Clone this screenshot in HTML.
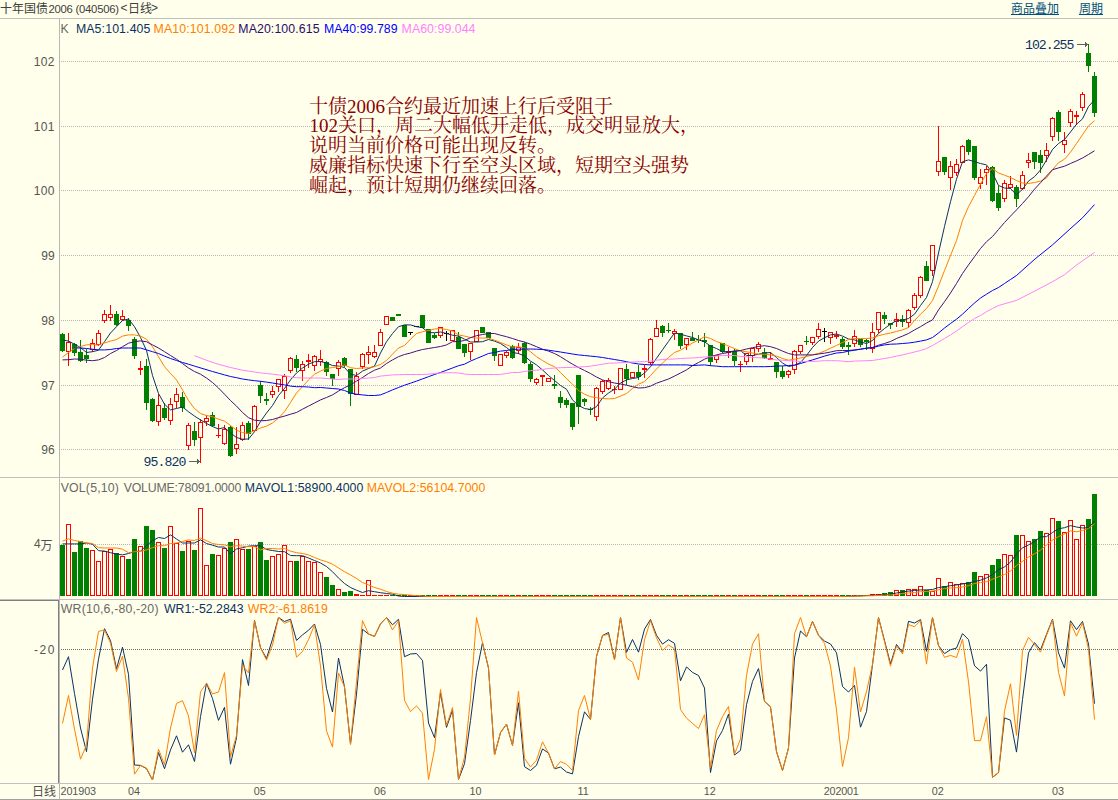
<!DOCTYPE html>
<html><head><meta charset="utf-8"><title>十年国债2006 日线</title>
<style>
html,body{margin:0;padding:0;background:#ffffeb;}
body{width:1118px;height:800px;overflow:hidden;position:relative;font-family:"Liberation Sans",sans-serif;}
.t{position:absolute;white-space:pre;line-height:1.15;}
.sr{position:absolute;left:0;top:0;width:1px;height:1px;overflow:hidden;opacity:0;font-size:1px;}
</style></head><body>
<svg width="1118" height="800" viewBox="0 0 1118 800" style="position:absolute;left:0;top:0">
<g shape-rendering="crispEdges">
<rect x="0" y="18" width="1118" height="1" fill="#c0c0c0"/>
<rect x="59" y="19" width="1" height="781" fill="#b8b8b8"/>
<rect x="0" y="477" width="1118" height="1" fill="#c0c0c0"/>
<rect x="0" y="599" width="1118" height="1" fill="#c0c0c0"/>
<rect x="0" y="600" width="59" height="1" fill="#808080"/>
<rect x="58" y="600" width="1" height="183" fill="#808080"/>
<rect x="0" y="783" width="1118" height="1" fill="#c0c0c0"/>
<rect x="0" y="799" width="1118" height="1" fill="#a0a0a0"/>
<line x1="61" y1="61.5" x2="1118" y2="61.5" stroke="#b6b6b6" stroke-width="1" stroke-dasharray="1 1"/>
<line x1="61" y1="126.5" x2="1118" y2="126.5" stroke="#b6b6b6" stroke-width="1" stroke-dasharray="1 1"/>
<line x1="61" y1="190.5" x2="1118" y2="190.5" stroke="#b6b6b6" stroke-width="1" stroke-dasharray="1 1"/>
<line x1="61" y1="255.5" x2="1118" y2="255.5" stroke="#b6b6b6" stroke-width="1" stroke-dasharray="1 1"/>
<line x1="61" y1="320.5" x2="1118" y2="320.5" stroke="#b6b6b6" stroke-width="1" stroke-dasharray="1 1"/>
<line x1="61" y1="385.5" x2="1118" y2="385.5" stroke="#b6b6b6" stroke-width="1" stroke-dasharray="1 1"/>
<line x1="61" y1="449.5" x2="1118" y2="449.5" stroke="#b6b6b6" stroke-width="1" stroke-dasharray="1 1"/>
<line x1="61" y1="544.5" x2="1118" y2="544.5" stroke="#b6b6b6" stroke-width="1" stroke-dasharray="1 1"/>
<line x1="61" y1="649.5" x2="1118" y2="649.5" stroke="#707070" stroke-width="1" stroke-dasharray="1 1"/>
</g>
<g shape-rendering="crispEdges">
<rect x="62" y="333" width="1" height="19" fill="#008000"/>
<rect x="60" y="334" width="5" height="17" fill="#008000"/>
<rect x="68" y="333" width="1" height="9" fill="#ff0000"/>
<rect x="68" y="352" width="1" height="14" fill="#ff0000"/>
<rect x="66.5" y="342.5" width="4" height="9" fill="#ffffeb" stroke="#ff0000" stroke-width="1"/>
<rect x="74" y="343" width="1" height="13" fill="#008000"/>
<rect x="72" y="344" width="5" height="9" fill="#008000"/>
<rect x="80" y="340" width="1" height="22" fill="#008000"/>
<rect x="78" y="352" width="5" height="9" fill="#008000"/>
<rect x="86" y="349" width="1" height="14" fill="#008000"/>
<rect x="84" y="355" width="5" height="4" fill="#008000"/>
<rect x="92" y="339" width="1" height="4" fill="#ff0000"/>
<rect x="92" y="350" width="1" height="2" fill="#ff0000"/>
<rect x="90.5" y="343.5" width="4" height="6" fill="#ffffeb" stroke="#ff0000" stroke-width="1"/>
<rect x="98" y="330" width="1" height="3" fill="#ff0000"/>
<rect x="98" y="345" width="1" height="1" fill="#ff0000"/>
<rect x="96.5" y="333.5" width="4" height="11" fill="#ffffeb" stroke="#ff0000" stroke-width="1"/>
<rect x="104" y="310" width="1" height="4" fill="#ff0000"/>
<rect x="104" y="321" width="1" height="2" fill="#ff0000"/>
<rect x="102.5" y="314.5" width="4" height="6" fill="#ffffeb" stroke="#ff0000" stroke-width="1"/>
<rect x="110" y="305" width="1" height="9" fill="#ff0000"/>
<rect x="110" y="318" width="1" height="3" fill="#ff0000"/>
<rect x="108.5" y="314.5" width="4" height="3" fill="#ffffeb" stroke="#ff0000" stroke-width="1"/>
<rect x="116" y="311" width="1" height="15" fill="#008000"/>
<rect x="114" y="314" width="5" height="11" fill="#008000"/>
<rect x="122" y="310" width="1" height="6" fill="#ff0000"/>
<rect x="122" y="320" width="1" height="1" fill="#ff0000"/>
<rect x="120.5" y="316.5" width="4" height="3" fill="#ffffeb" stroke="#ff0000" stroke-width="1"/>
<rect x="128" y="318" width="1" height="13" fill="#008000"/>
<rect x="126" y="320" width="5" height="6" fill="#008000"/>
<rect x="134" y="337" width="1" height="22" fill="#008000"/>
<rect x="132" y="339" width="5" height="17" fill="#008000"/>
<rect x="140" y="361" width="1" height="14" fill="#ff0000"/>
<rect x="138" y="368" width="5" height="2" fill="#ff0000"/>
<rect x="146" y="359" width="1" height="51" fill="#008000"/>
<rect x="144" y="366" width="5" height="37" fill="#008000"/>
<rect x="152" y="398" width="1" height="24" fill="#008000"/>
<rect x="150" y="399" width="5" height="22" fill="#008000"/>
<rect x="158" y="394" width="1" height="11" fill="#ff0000"/>
<rect x="158" y="422" width="1" height="4" fill="#ff0000"/>
<rect x="156.5" y="405.5" width="4" height="16" fill="#ffffeb" stroke="#ff0000" stroke-width="1"/>
<rect x="164" y="403" width="1" height="17" fill="#008000"/>
<rect x="162" y="408" width="5" height="10" fill="#008000"/>
<rect x="170" y="398" width="1" height="6" fill="#ff0000"/>
<rect x="170" y="421" width="1" height="4" fill="#ff0000"/>
<rect x="168.5" y="404.5" width="4" height="16" fill="#ffffeb" stroke="#ff0000" stroke-width="1"/>
<rect x="176" y="388" width="1" height="6" fill="#ff0000"/>
<rect x="176" y="402" width="1" height="6" fill="#ff0000"/>
<rect x="174.5" y="394.5" width="4" height="7" fill="#ffffeb" stroke="#ff0000" stroke-width="1"/>
<rect x="182" y="392" width="1" height="20" fill="#008000"/>
<rect x="180" y="397" width="5" height="11" fill="#008000"/>
<rect x="188" y="423" width="1" height="2" fill="#ff0000"/>
<rect x="188" y="446" width="1" height="4" fill="#ff0000"/>
<rect x="186.5" y="425.5" width="4" height="20" fill="#ffffeb" stroke="#ff0000" stroke-width="1"/>
<rect x="194" y="422" width="1" height="24" fill="#008000"/>
<rect x="192" y="431" width="5" height="9" fill="#008000"/>
<rect x="200" y="419" width="1" height="3" fill="#ff0000"/>
<rect x="200" y="438" width="1" height="25" fill="#ff0000"/>
<rect x="198.5" y="422.5" width="4" height="15" fill="#ffffeb" stroke="#ff0000" stroke-width="1"/>
<rect x="206" y="415" width="1" height="3" fill="#ff0000"/>
<rect x="206" y="422" width="1" height="4" fill="#ff0000"/>
<rect x="204.5" y="418.5" width="4" height="3" fill="#ffffeb" stroke="#ff0000" stroke-width="1"/>
<rect x="212" y="412" width="1" height="15" fill="#008000"/>
<rect x="210" y="415" width="5" height="11" fill="#008000"/>
<rect x="218" y="424" width="1" height="14" fill="#ff0000"/>
<rect x="216" y="435" width="5" height="1" fill="#ff0000"/>
<rect x="224" y="425" width="1" height="4" fill="#ff0000"/>
<rect x="224" y="444" width="1" height="1" fill="#ff0000"/>
<rect x="222.5" y="429.5" width="4" height="14" fill="#ffffeb" stroke="#ff0000" stroke-width="1"/>
<rect x="230" y="426" width="1" height="31" fill="#008000"/>
<rect x="228" y="427" width="5" height="29" fill="#008000"/>
<rect x="236" y="427" width="1" height="17" fill="#ff0000"/>
<rect x="236" y="449" width="1" height="5" fill="#ff0000"/>
<rect x="234.5" y="444.5" width="4" height="4" fill="#ffffeb" stroke="#ff0000" stroke-width="1"/>
<rect x="242" y="422" width="1" height="3" fill="#ff0000"/>
<rect x="242" y="440" width="1" height="1" fill="#ff0000"/>
<rect x="240.5" y="425.5" width="4" height="14" fill="#ffffeb" stroke="#ff0000" stroke-width="1"/>
<rect x="248" y="421" width="1" height="19" fill="#008000"/>
<rect x="246" y="423" width="5" height="11" fill="#008000"/>
<rect x="254" y="405" width="1" height="1" fill="#ff0000"/>
<rect x="252.5" y="406.5" width="4" height="24" fill="#ffffeb" stroke="#ff0000" stroke-width="1"/>
<rect x="260" y="381" width="1" height="22" fill="#008000"/>
<rect x="258" y="385" width="5" height="11" fill="#008000"/>
<rect x="266" y="393" width="1" height="12" fill="#008000"/>
<rect x="264" y="399" width="5" height="2" fill="#008000"/>
<rect x="272" y="386" width="1" height="5" fill="#ff0000"/>
<rect x="272" y="395" width="1" height="3" fill="#ff0000"/>
<rect x="270.5" y="391.5" width="4" height="3" fill="#ffffeb" stroke="#ff0000" stroke-width="1"/>
<rect x="278" y="387" width="1" height="5" fill="#ff0000"/>
<rect x="276.5" y="379.5" width="4" height="7" fill="#ffffeb" stroke="#ff0000" stroke-width="1"/>
<rect x="284" y="374" width="1" height="2" fill="#ff0000"/>
<rect x="284" y="391" width="1" height="8" fill="#ff0000"/>
<rect x="282.5" y="376.5" width="4" height="14" fill="#ffffeb" stroke="#ff0000" stroke-width="1"/>
<rect x="290" y="357" width="1" height="1" fill="#ff0000"/>
<rect x="290" y="371" width="1" height="2" fill="#ff0000"/>
<rect x="288.5" y="358.5" width="4" height="12" fill="#ffffeb" stroke="#ff0000" stroke-width="1"/>
<rect x="296" y="355" width="1" height="17" fill="#008000"/>
<rect x="294" y="359" width="5" height="9" fill="#008000"/>
<rect x="302" y="361" width="1" height="3" fill="#ff0000"/>
<rect x="302" y="371" width="1" height="10" fill="#ff0000"/>
<rect x="300.5" y="364.5" width="4" height="6" fill="#ffffeb" stroke="#ff0000" stroke-width="1"/>
<rect x="308" y="354" width="1" height="14" fill="#ff0000"/>
<rect x="306" y="360" width="5" height="2" fill="#ff0000"/>
<rect x="314" y="355" width="1" height="1" fill="#ff0000"/>
<rect x="314" y="366" width="1" height="5" fill="#ff0000"/>
<rect x="312.5" y="356.5" width="4" height="9" fill="#ffffeb" stroke="#ff0000" stroke-width="1"/>
<rect x="320" y="350" width="1" height="9" fill="#ff0000"/>
<rect x="320" y="362" width="1" height="4" fill="#ff0000"/>
<rect x="318.5" y="359.5" width="4" height="2" fill="#ffffeb" stroke="#ff0000" stroke-width="1"/>
<rect x="326" y="361" width="1" height="15" fill="#008000"/>
<rect x="324" y="362" width="5" height="10" fill="#008000"/>
<rect x="332" y="374" width="1" height="12" fill="#008000"/>
<rect x="330" y="374" width="5" height="5" fill="#008000"/>
<rect x="338" y="360" width="1" height="2" fill="#ff0000"/>
<rect x="338" y="369" width="1" height="7" fill="#ff0000"/>
<rect x="336.5" y="362.5" width="4" height="6" fill="#ffffeb" stroke="#ff0000" stroke-width="1"/>
<rect x="344" y="357" width="1" height="10" fill="#008000"/>
<rect x="342" y="358" width="5" height="8" fill="#008000"/>
<rect x="350" y="369" width="1" height="37" fill="#008000"/>
<rect x="348" y="369" width="5" height="25" fill="#008000"/>
<rect x="356" y="372" width="1" height="4" fill="#ff0000"/>
<rect x="354.5" y="376.5" width="4" height="18" fill="#ffffeb" stroke="#ff0000" stroke-width="1"/>
<rect x="362" y="353" width="1" height="1" fill="#ff0000"/>
<rect x="362" y="367" width="1" height="2" fill="#ff0000"/>
<rect x="360.5" y="354.5" width="4" height="12" fill="#ffffeb" stroke="#ff0000" stroke-width="1"/>
<rect x="368" y="346" width="1" height="6" fill="#ff0000"/>
<rect x="368" y="355" width="1" height="9" fill="#ff0000"/>
<rect x="366.5" y="352.5" width="4" height="2" fill="#ffffeb" stroke="#ff0000" stroke-width="1"/>
<rect x="374" y="345" width="1" height="7" fill="#ff0000"/>
<rect x="374" y="357" width="1" height="1" fill="#ff0000"/>
<rect x="372.5" y="352.5" width="4" height="4" fill="#ffffeb" stroke="#ff0000" stroke-width="1"/>
<rect x="380" y="329" width="1" height="3" fill="#ff0000"/>
<rect x="378.5" y="332.5" width="4" height="13" fill="#ffffeb" stroke="#ff0000" stroke-width="1"/>
<rect x="384.5" y="316.5" width="4" height="8" fill="#ffffeb" stroke="#ff0000" stroke-width="1"/>
<rect x="392" y="317" width="1" height="4" fill="#008000"/>
<rect x="390" y="317" width="5" height="4" fill="#008000"/>
<rect x="398" y="314" width="1" height="2" fill="#008000"/>
<rect x="396" y="314" width="5" height="2" fill="#008000"/>
<rect x="404" y="325" width="1" height="12" fill="#008000"/>
<rect x="402" y="325" width="5" height="12" fill="#008000"/>
<rect x="410" y="332" width="1" height="3" fill="#000000"/>
<rect x="408" y="332" width="5" height="1" fill="#000000"/>
<rect x="416" y="326" width="1" height="1" fill="#000000"/>
<rect x="414" y="326" width="5" height="1" fill="#000000"/>
<rect x="422" y="315" width="1" height="13" fill="#008000"/>
<rect x="420" y="315" width="5" height="13" fill="#008000"/>
<rect x="428" y="329" width="1" height="14" fill="#008000"/>
<rect x="426" y="329" width="5" height="14" fill="#008000"/>
<rect x="434" y="333" width="1" height="6" fill="#008000"/>
<rect x="432" y="335" width="5" height="3" fill="#008000"/>
<rect x="440" y="336" width="1" height="2" fill="#ff0000"/>
<rect x="438.5" y="327.5" width="4" height="8" fill="#ffffeb" stroke="#ff0000" stroke-width="1"/>
<rect x="446" y="331" width="1" height="10" fill="#000000"/>
<rect x="444" y="333" width="5" height="1" fill="#000000"/>
<rect x="450.5" y="330.5" width="4" height="10" fill="#ffffeb" stroke="#ff0000" stroke-width="1"/>
<rect x="458" y="332" width="1" height="17" fill="#008000"/>
<rect x="456" y="337" width="5" height="12" fill="#008000"/>
<rect x="464" y="344" width="1" height="13" fill="#008000"/>
<rect x="462" y="344" width="5" height="9" fill="#008000"/>
<rect x="470" y="352" width="1" height="8" fill="#ff0000"/>
<rect x="468.5" y="343.5" width="4" height="8" fill="#ffffeb" stroke="#ff0000" stroke-width="1"/>
<rect x="474.5" y="330.5" width="4" height="11" fill="#ffffeb" stroke="#ff0000" stroke-width="1"/>
<rect x="482" y="327" width="1" height="6" fill="#008000"/>
<rect x="480" y="327" width="5" height="6" fill="#008000"/>
<rect x="488" y="332" width="1" height="6" fill="#008000"/>
<rect x="486" y="332" width="5" height="6" fill="#008000"/>
<rect x="494" y="348" width="1" height="13" fill="#008000"/>
<rect x="492" y="348" width="5" height="8" fill="#008000"/>
<rect x="498.5" y="354.5" width="4" height="11" fill="#ffffeb" stroke="#ff0000" stroke-width="1"/>
<rect x="506" y="351" width="1" height="1" fill="#ff0000"/>
<rect x="506" y="356" width="1" height="2" fill="#ff0000"/>
<rect x="504.5" y="352.5" width="4" height="3" fill="#ffffeb" stroke="#ff0000" stroke-width="1"/>
<rect x="512" y="345" width="1" height="14" fill="#008000"/>
<rect x="510" y="346" width="5" height="12" fill="#008000"/>
<rect x="518" y="343" width="1" height="4" fill="#ff0000"/>
<rect x="518" y="351" width="1" height="3" fill="#ff0000"/>
<rect x="516.5" y="347.5" width="4" height="3" fill="#ffffeb" stroke="#ff0000" stroke-width="1"/>
<rect x="524" y="342" width="1" height="22" fill="#008000"/>
<rect x="522" y="343" width="5" height="20" fill="#008000"/>
<rect x="530" y="362" width="1" height="20" fill="#008000"/>
<rect x="528" y="364" width="5" height="15" fill="#008000"/>
<rect x="536" y="378" width="1" height="1" fill="#ff0000"/>
<rect x="536" y="383" width="1" height="2" fill="#ff0000"/>
<rect x="534.5" y="379.5" width="4" height="3" fill="#ffffeb" stroke="#ff0000" stroke-width="1"/>
<rect x="542" y="375" width="1" height="11" fill="#ff0000"/>
<rect x="540" y="375" width="5" height="2" fill="#ff0000"/>
<rect x="546.5" y="378.5" width="4" height="3" fill="#ffffeb" stroke="#ff0000" stroke-width="1"/>
<rect x="554" y="375" width="1" height="14" fill="#008000"/>
<rect x="552" y="384" width="5" height="2" fill="#008000"/>
<rect x="560" y="391" width="1" height="17" fill="#008000"/>
<rect x="558" y="397" width="5" height="6" fill="#008000"/>
<rect x="566" y="398" width="1" height="10" fill="#008000"/>
<rect x="564" y="400" width="5" height="5" fill="#008000"/>
<rect x="572" y="403" width="1" height="27" fill="#008000"/>
<rect x="570" y="403" width="5" height="24" fill="#008000"/>
<rect x="578" y="375" width="1" height="49" fill="#008000"/>
<rect x="576" y="375" width="5" height="32" fill="#008000"/>
<rect x="584" y="398" width="1" height="8" fill="#008000"/>
<rect x="582" y="399" width="5" height="3" fill="#008000"/>
<rect x="590" y="407" width="1" height="8" fill="#008000"/>
<rect x="588" y="409" width="5" height="1" fill="#008000"/>
<rect x="596" y="387" width="1" height="1" fill="#ff0000"/>
<rect x="596" y="417" width="1" height="4" fill="#ff0000"/>
<rect x="594.5" y="388.5" width="4" height="28" fill="#ffffeb" stroke="#ff0000" stroke-width="1"/>
<rect x="602" y="380" width="1" height="1" fill="#ff0000"/>
<rect x="602" y="392" width="1" height="2" fill="#ff0000"/>
<rect x="600.5" y="381.5" width="4" height="10" fill="#ffffeb" stroke="#ff0000" stroke-width="1"/>
<rect x="608" y="378" width="1" height="2" fill="#ff0000"/>
<rect x="608" y="389" width="1" height="1" fill="#ff0000"/>
<rect x="606.5" y="380.5" width="4" height="8" fill="#ffffeb" stroke="#ff0000" stroke-width="1"/>
<rect x="614" y="386" width="1" height="8" fill="#ff0000"/>
<rect x="612" y="389" width="5" height="1" fill="#ff0000"/>
<rect x="618.5" y="368.5" width="4" height="21" fill="#ffffeb" stroke="#ff0000" stroke-width="1"/>
<rect x="626" y="364" width="1" height="21" fill="#008000"/>
<rect x="624" y="369" width="5" height="10" fill="#008000"/>
<rect x="630.5" y="372.5" width="4" height="5" fill="#ffffeb" stroke="#ff0000" stroke-width="1"/>
<rect x="638" y="365" width="1" height="15" fill="#008000"/>
<rect x="636" y="372" width="5" height="5" fill="#008000"/>
<rect x="644" y="365" width="1" height="13" fill="#ff0000"/>
<rect x="642" y="368" width="5" height="2" fill="#ff0000"/>
<rect x="650" y="338" width="1" height="1" fill="#ff0000"/>
<rect x="650" y="363" width="1" height="2" fill="#ff0000"/>
<rect x="648.5" y="339.5" width="4" height="23" fill="#ffffeb" stroke="#ff0000" stroke-width="1"/>
<rect x="656" y="320" width="1" height="8" fill="#ff0000"/>
<rect x="654.5" y="328.5" width="4" height="8" fill="#ffffeb" stroke="#ff0000" stroke-width="1"/>
<rect x="662" y="325" width="1" height="12" fill="#008000"/>
<rect x="660" y="326" width="5" height="7" fill="#008000"/>
<rect x="668" y="323" width="1" height="10" fill="#008000"/>
<rect x="666" y="330" width="5" height="1" fill="#008000"/>
<rect x="674" y="329" width="1" height="2" fill="#ff0000"/>
<rect x="674" y="334" width="1" height="6" fill="#ff0000"/>
<rect x="672.5" y="331.5" width="4" height="2" fill="#ffffeb" stroke="#ff0000" stroke-width="1"/>
<rect x="680" y="333" width="1" height="16" fill="#008000"/>
<rect x="678" y="333" width="5" height="13" fill="#008000"/>
<rect x="686" y="345" width="1" height="5" fill="#ff0000"/>
<rect x="684.5" y="338.5" width="4" height="6" fill="#ffffeb" stroke="#ff0000" stroke-width="1"/>
<rect x="692" y="332" width="1" height="9" fill="#008000"/>
<rect x="690" y="338" width="5" height="3" fill="#008000"/>
<rect x="698" y="335" width="1" height="8" fill="#008000"/>
<rect x="696" y="339" width="5" height="1" fill="#008000"/>
<rect x="704" y="333" width="1" height="14" fill="#008000"/>
<rect x="702" y="340" width="5" height="2" fill="#008000"/>
<rect x="710" y="345" width="1" height="21" fill="#008000"/>
<rect x="708" y="345" width="5" height="17" fill="#008000"/>
<rect x="716" y="360" width="1" height="3" fill="#ff0000"/>
<rect x="714.5" y="355.5" width="4" height="4" fill="#ffffeb" stroke="#ff0000" stroke-width="1"/>
<rect x="722" y="343" width="1" height="10" fill="#008000"/>
<rect x="720" y="343" width="5" height="9" fill="#008000"/>
<rect x="728" y="347" width="1" height="11" fill="#ff0000"/>
<rect x="726" y="351" width="5" height="2" fill="#ff0000"/>
<rect x="734" y="349" width="1" height="17" fill="#008000"/>
<rect x="732" y="351" width="5" height="10" fill="#008000"/>
<rect x="740" y="361" width="1" height="11" fill="#ff0000"/>
<rect x="738" y="364" width="5" height="1" fill="#ff0000"/>
<rect x="746" y="362" width="1" height="3" fill="#ff0000"/>
<rect x="744.5" y="353.5" width="4" height="8" fill="#ffffeb" stroke="#ff0000" stroke-width="1"/>
<rect x="752" y="356" width="1" height="6" fill="#ff0000"/>
<rect x="750.5" y="348.5" width="4" height="7" fill="#ffffeb" stroke="#ff0000" stroke-width="1"/>
<rect x="758" y="342" width="1" height="2" fill="#ff0000"/>
<rect x="758" y="349" width="1" height="3" fill="#ff0000"/>
<rect x="756.5" y="344.5" width="4" height="4" fill="#ffffeb" stroke="#ff0000" stroke-width="1"/>
<rect x="764" y="348" width="1" height="11" fill="#008000"/>
<rect x="762" y="352" width="5" height="6" fill="#008000"/>
<rect x="770" y="352" width="1" height="8" fill="#ff0000"/>
<rect x="768" y="358" width="5" height="2" fill="#ff0000"/>
<rect x="776" y="362" width="1" height="16" fill="#008000"/>
<rect x="774" y="362" width="5" height="10" fill="#008000"/>
<rect x="782" y="366" width="1" height="13" fill="#008000"/>
<rect x="780" y="371" width="5" height="6" fill="#008000"/>
<rect x="788" y="370" width="1" height="1" fill="#ff0000"/>
<rect x="788" y="375" width="1" height="3" fill="#ff0000"/>
<rect x="786.5" y="371.5" width="4" height="3" fill="#ffffeb" stroke="#ff0000" stroke-width="1"/>
<rect x="794" y="350" width="1" height="1" fill="#ff0000"/>
<rect x="794" y="370" width="1" height="4" fill="#ff0000"/>
<rect x="792.5" y="351.5" width="4" height="18" fill="#ffffeb" stroke="#ff0000" stroke-width="1"/>
<rect x="800" y="352" width="1" height="2" fill="#ff0000"/>
<rect x="798.5" y="345.5" width="4" height="6" fill="#ffffeb" stroke="#ff0000" stroke-width="1"/>
<rect x="806" y="336" width="1" height="9" fill="#008000"/>
<rect x="804" y="341" width="5" height="1" fill="#008000"/>
<rect x="812" y="343" width="1" height="2" fill="#ff0000"/>
<rect x="810.5" y="337.5" width="4" height="5" fill="#ffffeb" stroke="#ff0000" stroke-width="1"/>
<rect x="818" y="323" width="1" height="6" fill="#ff0000"/>
<rect x="818" y="337" width="1" height="2" fill="#ff0000"/>
<rect x="816.5" y="329.5" width="4" height="7" fill="#ffffeb" stroke="#ff0000" stroke-width="1"/>
<rect x="824" y="328" width="1" height="14" fill="#000000"/>
<rect x="822" y="331" width="5" height="1" fill="#000000"/>
<rect x="830" y="338" width="1" height="6" fill="#ff0000"/>
<rect x="828.5" y="332.5" width="4" height="5" fill="#ffffeb" stroke="#ff0000" stroke-width="1"/>
<rect x="836" y="331" width="1" height="8" fill="#ff0000"/>
<rect x="834" y="335" width="5" height="2" fill="#ff0000"/>
<rect x="842" y="337" width="1" height="12" fill="#008000"/>
<rect x="840" y="339" width="5" height="8" fill="#008000"/>
<rect x="848" y="342" width="1" height="13" fill="#008000"/>
<rect x="846" y="345" width="5" height="2" fill="#008000"/>
<rect x="854" y="330" width="1" height="6" fill="#ff0000"/>
<rect x="854" y="344" width="1" height="3" fill="#ff0000"/>
<rect x="852.5" y="336.5" width="4" height="7" fill="#ffffeb" stroke="#ff0000" stroke-width="1"/>
<rect x="860" y="339" width="1" height="8" fill="#008000"/>
<rect x="858" y="339" width="5" height="6" fill="#008000"/>
<rect x="866" y="339" width="1" height="11" fill="#008000"/>
<rect x="864" y="340" width="5" height="2" fill="#008000"/>
<rect x="872" y="323" width="1" height="9" fill="#ff0000"/>
<rect x="872" y="349" width="1" height="4" fill="#ff0000"/>
<rect x="870.5" y="332.5" width="4" height="16" fill="#ffffeb" stroke="#ff0000" stroke-width="1"/>
<rect x="878" y="330" width="1" height="3" fill="#ff0000"/>
<rect x="876.5" y="312.5" width="4" height="17" fill="#ffffeb" stroke="#ff0000" stroke-width="1"/>
<rect x="884" y="312" width="1" height="12" fill="#008000"/>
<rect x="882" y="315" width="5" height="4" fill="#008000"/>
<rect x="890" y="323" width="1" height="6" fill="#008000"/>
<rect x="888" y="323" width="5" height="2" fill="#008000"/>
<rect x="896" y="313" width="1" height="6" fill="#ff0000"/>
<rect x="896" y="322" width="1" height="5" fill="#ff0000"/>
<rect x="894.5" y="319.5" width="4" height="2" fill="#ffffeb" stroke="#ff0000" stroke-width="1"/>
<rect x="902" y="315" width="1" height="12" fill="#008000"/>
<rect x="900" y="319" width="5" height="3" fill="#008000"/>
<rect x="908" y="309" width="1" height="1" fill="#ff0000"/>
<rect x="908" y="323" width="1" height="5" fill="#ff0000"/>
<rect x="906.5" y="310.5" width="4" height="12" fill="#ffffeb" stroke="#ff0000" stroke-width="1"/>
<rect x="914" y="293" width="1" height="2" fill="#ff0000"/>
<rect x="914" y="308" width="1" height="2" fill="#ff0000"/>
<rect x="912.5" y="295.5" width="4" height="12" fill="#ffffeb" stroke="#ff0000" stroke-width="1"/>
<rect x="920" y="276" width="1" height="1" fill="#ff0000"/>
<rect x="920" y="296" width="1" height="2" fill="#ff0000"/>
<rect x="918.5" y="277.5" width="4" height="18" fill="#ffffeb" stroke="#ff0000" stroke-width="1"/>
<rect x="926" y="261" width="1" height="20" fill="#008000"/>
<rect x="924" y="266" width="5" height="15" fill="#008000"/>
<rect x="932" y="271" width="1" height="5" fill="#ff0000"/>
<rect x="930.5" y="245.5" width="4" height="25" fill="#ffffeb" stroke="#ff0000" stroke-width="1"/>
<rect x="938" y="126" width="1" height="35" fill="#ff0000"/>
<rect x="938" y="172" width="1" height="4" fill="#ff0000"/>
<rect x="936.5" y="161.5" width="4" height="10" fill="#ffffeb" stroke="#ff0000" stroke-width="1"/>
<rect x="944" y="157" width="1" height="18" fill="#008000"/>
<rect x="942" y="157" width="5" height="15" fill="#008000"/>
<rect x="950" y="161" width="1" height="5" fill="#ff0000"/>
<rect x="950" y="178" width="1" height="12" fill="#ff0000"/>
<rect x="948.5" y="166.5" width="4" height="11" fill="#ffffeb" stroke="#ff0000" stroke-width="1"/>
<rect x="956" y="159" width="1" height="5" fill="#ff0000"/>
<rect x="956" y="173" width="1" height="3" fill="#ff0000"/>
<rect x="954.5" y="164.5" width="4" height="8" fill="#ffffeb" stroke="#ff0000" stroke-width="1"/>
<rect x="962" y="145" width="1" height="1" fill="#ff0000"/>
<rect x="960.5" y="146.5" width="4" height="16" fill="#ffffeb" stroke="#ff0000" stroke-width="1"/>
<rect x="968" y="139" width="1" height="16" fill="#008000"/>
<rect x="966" y="140" width="5" height="12" fill="#008000"/>
<rect x="974" y="146" width="1" height="34" fill="#008000"/>
<rect x="972" y="146" width="5" height="32" fill="#008000"/>
<rect x="980" y="169" width="1" height="8" fill="#ff0000"/>
<rect x="980" y="184" width="1" height="5" fill="#ff0000"/>
<rect x="978.5" y="177.5" width="4" height="6" fill="#ffffeb" stroke="#ff0000" stroke-width="1"/>
<rect x="986" y="166" width="1" height="3" fill="#ff0000"/>
<rect x="986" y="173" width="1" height="12" fill="#ff0000"/>
<rect x="984.5" y="169.5" width="4" height="3" fill="#ffffeb" stroke="#ff0000" stroke-width="1"/>
<rect x="992" y="166" width="1" height="36" fill="#008000"/>
<rect x="990" y="167" width="5" height="34" fill="#008000"/>
<rect x="998" y="186" width="1" height="25" fill="#008000"/>
<rect x="996" y="193" width="5" height="15" fill="#008000"/>
<rect x="1004" y="180" width="1" height="3" fill="#ff0000"/>
<rect x="1004" y="199" width="1" height="3" fill="#ff0000"/>
<rect x="1002.5" y="183.5" width="4" height="15" fill="#ffffeb" stroke="#ff0000" stroke-width="1"/>
<rect x="1010" y="176" width="1" height="8" fill="#ff0000"/>
<rect x="1010" y="188" width="1" height="1" fill="#ff0000"/>
<rect x="1008.5" y="184.5" width="4" height="3" fill="#ffffeb" stroke="#ff0000" stroke-width="1"/>
<rect x="1016" y="185" width="1" height="22" fill="#008000"/>
<rect x="1014" y="187" width="5" height="12" fill="#008000"/>
<rect x="1022" y="171" width="1" height="4" fill="#ff0000"/>
<rect x="1022" y="189" width="1" height="1" fill="#ff0000"/>
<rect x="1020.5" y="175.5" width="4" height="13" fill="#ffffeb" stroke="#ff0000" stroke-width="1"/>
<rect x="1028" y="153" width="1" height="7" fill="#ff0000"/>
<rect x="1028" y="163" width="1" height="5" fill="#ff0000"/>
<rect x="1026.5" y="160.5" width="4" height="2" fill="#ffffeb" stroke="#ff0000" stroke-width="1"/>
<rect x="1034" y="152" width="1" height="17" fill="#008000"/>
<rect x="1032" y="152" width="5" height="10" fill="#008000"/>
<rect x="1040" y="150" width="1" height="23" fill="#008000"/>
<rect x="1038" y="155" width="5" height="8" fill="#008000"/>
<rect x="1046" y="143" width="1" height="7" fill="#ff0000"/>
<rect x="1046" y="156" width="1" height="6" fill="#ff0000"/>
<rect x="1044.5" y="150.5" width="4" height="5" fill="#ffffeb" stroke="#ff0000" stroke-width="1"/>
<rect x="1052" y="117" width="1" height="1" fill="#ff0000"/>
<rect x="1052" y="137" width="1" height="4" fill="#ff0000"/>
<rect x="1050.5" y="118.5" width="4" height="18" fill="#ffffeb" stroke="#ff0000" stroke-width="1"/>
<rect x="1058" y="110" width="1" height="31" fill="#008000"/>
<rect x="1056" y="112" width="5" height="20" fill="#008000"/>
<rect x="1064" y="132" width="1" height="8" fill="#ff0000"/>
<rect x="1064" y="145" width="1" height="8" fill="#ff0000"/>
<rect x="1062.5" y="140.5" width="4" height="4" fill="#ffffeb" stroke="#ff0000" stroke-width="1"/>
<rect x="1070" y="109" width="1" height="2" fill="#ff0000"/>
<rect x="1070" y="123" width="1" height="4" fill="#ff0000"/>
<rect x="1068.5" y="111.5" width="4" height="11" fill="#ffffeb" stroke="#ff0000" stroke-width="1"/>
<rect x="1076" y="111" width="1" height="14" fill="#ff0000"/>
<rect x="1074" y="115" width="5" height="2" fill="#ff0000"/>
<rect x="1082" y="92" width="1" height="2" fill="#ff0000"/>
<rect x="1082" y="108" width="1" height="3" fill="#ff0000"/>
<rect x="1080.5" y="94.5" width="4" height="13" fill="#ffffeb" stroke="#ff0000" stroke-width="1"/>
<rect x="1088" y="44" width="1" height="28" fill="#008000"/>
<rect x="1086" y="53" width="5" height="13" fill="#008000"/>
<rect x="1094" y="72" width="1" height="45" fill="#008000"/>
<rect x="1092" y="76" width="5" height="37" fill="#008000"/>
</g>
<g shape-rendering="crispEdges">
<rect x="60" y="545" width="5" height="51" fill="#008000"/>
<rect x="66.5" y="524.5" width="4" height="71" fill="#ffffeb" stroke="#ff0000" stroke-width="1"/>
<rect x="72" y="552" width="5" height="44" fill="#008000"/>
<rect x="78" y="541" width="5" height="55" fill="#008000"/>
<rect x="84" y="548" width="5" height="48" fill="#008000"/>
<rect x="90.5" y="550.5" width="4" height="45" fill="#ffffeb" stroke="#ff0000" stroke-width="1"/>
<rect x="96.5" y="561.5" width="4" height="34" fill="#ffffeb" stroke="#ff0000" stroke-width="1"/>
<rect x="102.5" y="551.5" width="4" height="44" fill="#ffffeb" stroke="#ff0000" stroke-width="1"/>
<rect x="108.5" y="549.5" width="4" height="46" fill="#ffffeb" stroke="#ff0000" stroke-width="1"/>
<rect x="114" y="553" width="5" height="43" fill="#008000"/>
<rect x="120.5" y="556.5" width="4" height="39" fill="#ffffeb" stroke="#ff0000" stroke-width="1"/>
<rect x="126" y="559" width="5" height="37" fill="#008000"/>
<rect x="132" y="539" width="5" height="57" fill="#008000"/>
<rect x="138.5" y="546.5" width="4" height="49" fill="#ffffeb" stroke="#ff0000" stroke-width="1"/>
<rect x="144" y="526" width="5" height="70" fill="#008000"/>
<rect x="150" y="530" width="5" height="66" fill="#008000"/>
<rect x="156.5" y="542.5" width="4" height="53" fill="#ffffeb" stroke="#ff0000" stroke-width="1"/>
<rect x="162" y="548" width="5" height="48" fill="#008000"/>
<rect x="168.5" y="526.5" width="4" height="69" fill="#ffffeb" stroke="#ff0000" stroke-width="1"/>
<rect x="174.5" y="543.5" width="4" height="52" fill="#ffffeb" stroke="#ff0000" stroke-width="1"/>
<rect x="180" y="551" width="5" height="45" fill="#008000"/>
<rect x="186.5" y="541.5" width="4" height="54" fill="#ffffeb" stroke="#ff0000" stroke-width="1"/>
<rect x="192" y="550" width="5" height="46" fill="#008000"/>
<rect x="198.5" y="508.5" width="4" height="87" fill="#ffffeb" stroke="#ff0000" stroke-width="1"/>
<rect x="204.5" y="565.5" width="4" height="30" fill="#ffffeb" stroke="#ff0000" stroke-width="1"/>
<rect x="210" y="554" width="5" height="42" fill="#008000"/>
<rect x="216.5" y="555.5" width="4" height="40" fill="#ffffeb" stroke="#ff0000" stroke-width="1"/>
<rect x="222.5" y="548.5" width="4" height="47" fill="#ffffeb" stroke="#ff0000" stroke-width="1"/>
<rect x="228" y="542" width="5" height="54" fill="#008000"/>
<rect x="234.5" y="539.5" width="4" height="56" fill="#ffffeb" stroke="#ff0000" stroke-width="1"/>
<rect x="240.5" y="549.5" width="4" height="46" fill="#ffffeb" stroke="#ff0000" stroke-width="1"/>
<rect x="246" y="549" width="5" height="47" fill="#008000"/>
<rect x="252.5" y="546.5" width="4" height="49" fill="#ffffeb" stroke="#ff0000" stroke-width="1"/>
<rect x="258" y="542" width="5" height="54" fill="#008000"/>
<rect x="264" y="560" width="5" height="36" fill="#008000"/>
<rect x="270.5" y="556.5" width="4" height="39" fill="#ffffeb" stroke="#ff0000" stroke-width="1"/>
<rect x="276.5" y="554.5" width="4" height="41" fill="#ffffeb" stroke="#ff0000" stroke-width="1"/>
<rect x="282.5" y="545.5" width="4" height="50" fill="#ffffeb" stroke="#ff0000" stroke-width="1"/>
<rect x="288.5" y="561.5" width="4" height="34" fill="#ffffeb" stroke="#ff0000" stroke-width="1"/>
<rect x="294" y="561" width="5" height="35" fill="#008000"/>
<rect x="300.5" y="556.5" width="4" height="39" fill="#ffffeb" stroke="#ff0000" stroke-width="1"/>
<rect x="306.5" y="561.5" width="4" height="34" fill="#ffffeb" stroke="#ff0000" stroke-width="1"/>
<rect x="312.5" y="562.5" width="4" height="33" fill="#ffffeb" stroke="#ff0000" stroke-width="1"/>
<rect x="318.5" y="572.5" width="4" height="23" fill="#ffffeb" stroke="#ff0000" stroke-width="1"/>
<rect x="324" y="577" width="5" height="19" fill="#008000"/>
<rect x="330" y="585" width="5" height="11" fill="#008000"/>
<rect x="336.5" y="589.5" width="4" height="6" fill="#ffffeb" stroke="#ff0000" stroke-width="1"/>
<rect x="342" y="592" width="5" height="4" fill="#008000"/>
<rect x="348" y="591" width="5" height="5" fill="#008000"/>
<rect x="354" y="594" width="5" height="2" fill="#ff0000"/>
<rect x="360" y="595" width="5" height="1" fill="#ff0000"/>
<rect x="366.5" y="580.5" width="4" height="15" fill="#ffffeb" stroke="#ff0000" stroke-width="1"/>
<rect x="372" y="595" width="5" height="1" fill="#ff0000"/>
<rect x="378" y="595" width="5" height="1" fill="#ff0000"/>
<rect x="384" y="595" width="5" height="1" fill="#ff0000"/>
<rect x="390" y="595" width="5" height="1" fill="#008000"/>
<rect x="396" y="595" width="5" height="1" fill="#008000"/>
<rect x="402" y="595" width="5" height="1" fill="#008000"/>
<rect x="408" y="595" width="5" height="1" fill="#ff0000"/>
<rect x="414" y="595" width="5" height="1" fill="#ff0000"/>
<rect x="420" y="595" width="5" height="1" fill="#008000"/>
<rect x="426" y="595" width="5" height="1" fill="#008000"/>
<rect x="432" y="595" width="5" height="1" fill="#008000"/>
<rect x="438" y="595" width="5" height="1" fill="#ff0000"/>
<rect x="444" y="595" width="5" height="1" fill="#ff0000"/>
<rect x="450" y="595" width="5" height="1" fill="#ff0000"/>
<rect x="456" y="595" width="5" height="1" fill="#008000"/>
<rect x="462" y="595" width="5" height="1" fill="#008000"/>
<rect x="468" y="595" width="5" height="1" fill="#ff0000"/>
<rect x="474" y="595" width="5" height="1" fill="#ff0000"/>
<rect x="480" y="595" width="5" height="1" fill="#008000"/>
<rect x="486" y="595" width="5" height="1" fill="#008000"/>
<rect x="492" y="595" width="5" height="1" fill="#008000"/>
<rect x="498" y="595" width="5" height="1" fill="#ff0000"/>
<rect x="504" y="595" width="5" height="1" fill="#ff0000"/>
<rect x="510" y="595" width="5" height="1" fill="#008000"/>
<rect x="516" y="595" width="5" height="1" fill="#ff0000"/>
<rect x="522" y="595" width="5" height="1" fill="#008000"/>
<rect x="528" y="595" width="5" height="1" fill="#008000"/>
<rect x="534" y="595" width="5" height="1" fill="#ff0000"/>
<rect x="540" y="595" width="5" height="1" fill="#ff0000"/>
<rect x="546" y="595" width="5" height="1" fill="#ff0000"/>
<rect x="552" y="595" width="5" height="1" fill="#008000"/>
<rect x="558" y="595" width="5" height="1" fill="#008000"/>
<rect x="564" y="595" width="5" height="1" fill="#008000"/>
<rect x="570" y="595" width="5" height="1" fill="#008000"/>
<rect x="576" y="595" width="5" height="1" fill="#008000"/>
<rect x="582" y="595" width="5" height="1" fill="#008000"/>
<rect x="588" y="595" width="5" height="1" fill="#008000"/>
<rect x="594" y="595" width="5" height="1" fill="#ff0000"/>
<rect x="600" y="595" width="5" height="1" fill="#ff0000"/>
<rect x="606" y="595" width="5" height="1" fill="#ff0000"/>
<rect x="612" y="595" width="5" height="1" fill="#ff0000"/>
<rect x="618" y="595" width="5" height="1" fill="#ff0000"/>
<rect x="624" y="595" width="5" height="1" fill="#008000"/>
<rect x="630" y="595" width="5" height="1" fill="#ff0000"/>
<rect x="636" y="595" width="5" height="1" fill="#008000"/>
<rect x="642" y="595" width="5" height="1" fill="#ff0000"/>
<rect x="648" y="595" width="5" height="1" fill="#ff0000"/>
<rect x="654" y="595" width="5" height="1" fill="#ff0000"/>
<rect x="660" y="595" width="5" height="1" fill="#008000"/>
<rect x="666" y="595" width="5" height="1" fill="#008000"/>
<rect x="672" y="595" width="5" height="1" fill="#ff0000"/>
<rect x="678" y="595" width="5" height="1" fill="#008000"/>
<rect x="684" y="595" width="5" height="1" fill="#ff0000"/>
<rect x="690" y="595" width="5" height="1" fill="#008000"/>
<rect x="696" y="595" width="5" height="1" fill="#008000"/>
<rect x="702" y="595" width="5" height="1" fill="#008000"/>
<rect x="708" y="595" width="5" height="1" fill="#008000"/>
<rect x="714" y="595" width="5" height="1" fill="#ff0000"/>
<rect x="720" y="595" width="5" height="1" fill="#008000"/>
<rect x="726" y="595" width="5" height="1" fill="#ff0000"/>
<rect x="732" y="595" width="5" height="1" fill="#008000"/>
<rect x="738" y="595" width="5" height="1" fill="#ff0000"/>
<rect x="744" y="595" width="5" height="1" fill="#ff0000"/>
<rect x="750" y="595" width="5" height="1" fill="#ff0000"/>
<rect x="756" y="595" width="5" height="1" fill="#ff0000"/>
<rect x="762" y="595" width="5" height="1" fill="#008000"/>
<rect x="768" y="595" width="5" height="1" fill="#ff0000"/>
<rect x="774" y="595" width="5" height="1" fill="#008000"/>
<rect x="780" y="595" width="5" height="1" fill="#008000"/>
<rect x="786" y="595" width="5" height="1" fill="#ff0000"/>
<rect x="792" y="595" width="5" height="1" fill="#ff0000"/>
<rect x="798" y="595" width="5" height="1" fill="#ff0000"/>
<rect x="804" y="595" width="5" height="1" fill="#008000"/>
<rect x="810" y="595" width="5" height="1" fill="#ff0000"/>
<rect x="816" y="595" width="5" height="1" fill="#ff0000"/>
<rect x="822" y="595" width="5" height="1" fill="#ff0000"/>
<rect x="828" y="595" width="5" height="1" fill="#ff0000"/>
<rect x="834" y="595" width="5" height="1" fill="#ff0000"/>
<rect x="840" y="595" width="5" height="1" fill="#008000"/>
<rect x="846" y="595" width="5" height="1" fill="#008000"/>
<rect x="852" y="595" width="5" height="1" fill="#ff0000"/>
<rect x="858" y="595" width="5" height="1" fill="#008000"/>
<rect x="864" y="595" width="5" height="1" fill="#008000"/>
<rect x="870" y="594" width="5" height="2" fill="#ff0000"/>
<rect x="876" y="594" width="5" height="2" fill="#ff0000"/>
<rect x="882" y="593" width="5" height="3" fill="#008000"/>
<rect x="888" y="592" width="5" height="4" fill="#008000"/>
<rect x="894.5" y="590.5" width="4" height="5" fill="#ffffeb" stroke="#ff0000" stroke-width="1"/>
<rect x="900" y="590" width="5" height="6" fill="#008000"/>
<rect x="906.5" y="589.5" width="4" height="6" fill="#ffffeb" stroke="#ff0000" stroke-width="1"/>
<rect x="912.5" y="589.5" width="4" height="6" fill="#ffffeb" stroke="#ff0000" stroke-width="1"/>
<rect x="918.5" y="586.5" width="4" height="9" fill="#ffffeb" stroke="#ff0000" stroke-width="1"/>
<rect x="924" y="590" width="5" height="6" fill="#008000"/>
<rect x="930.5" y="591.5" width="4" height="4" fill="#ffffeb" stroke="#ff0000" stroke-width="1"/>
<rect x="936.5" y="578.5" width="4" height="17" fill="#ffffeb" stroke="#ff0000" stroke-width="1"/>
<rect x="942" y="586" width="5" height="10" fill="#008000"/>
<rect x="948.5" y="582.5" width="4" height="13" fill="#ffffeb" stroke="#ff0000" stroke-width="1"/>
<rect x="954.5" y="584.5" width="4" height="11" fill="#ffffeb" stroke="#ff0000" stroke-width="1"/>
<rect x="960.5" y="583.5" width="4" height="12" fill="#ffffeb" stroke="#ff0000" stroke-width="1"/>
<rect x="966" y="582" width="5" height="14" fill="#008000"/>
<rect x="972" y="572" width="5" height="24" fill="#008000"/>
<rect x="978.5" y="576.5" width="4" height="19" fill="#ffffeb" stroke="#ff0000" stroke-width="1"/>
<rect x="984.5" y="574.5" width="4" height="21" fill="#ffffeb" stroke="#ff0000" stroke-width="1"/>
<rect x="990" y="565" width="5" height="31" fill="#008000"/>
<rect x="996" y="559" width="5" height="37" fill="#008000"/>
<rect x="1002.5" y="554.5" width="4" height="41" fill="#ffffeb" stroke="#ff0000" stroke-width="1"/>
<rect x="1008.5" y="555.5" width="4" height="40" fill="#ffffeb" stroke="#ff0000" stroke-width="1"/>
<rect x="1014" y="535" width="5" height="61" fill="#008000"/>
<rect x="1020.5" y="535.5" width="4" height="60" fill="#ffffeb" stroke="#ff0000" stroke-width="1"/>
<rect x="1026.5" y="541.5" width="4" height="54" fill="#ffffeb" stroke="#ff0000" stroke-width="1"/>
<rect x="1032" y="539" width="5" height="57" fill="#008000"/>
<rect x="1038" y="531" width="5" height="65" fill="#008000"/>
<rect x="1044.5" y="533.5" width="4" height="62" fill="#ffffeb" stroke="#ff0000" stroke-width="1"/>
<rect x="1050.5" y="518.5" width="4" height="77" fill="#ffffeb" stroke="#ff0000" stroke-width="1"/>
<rect x="1056" y="521" width="5" height="75" fill="#008000"/>
<rect x="1062.5" y="532.5" width="4" height="63" fill="#ffffeb" stroke="#ff0000" stroke-width="1"/>
<rect x="1068.5" y="520.5" width="4" height="75" fill="#ffffeb" stroke="#ff0000" stroke-width="1"/>
<rect x="1074.5" y="539.5" width="4" height="56" fill="#ffffeb" stroke="#ff0000" stroke-width="1"/>
<rect x="1080.5" y="525.5" width="4" height="70" fill="#ffffeb" stroke="#ff0000" stroke-width="1"/>
<rect x="1086" y="519" width="5" height="77" fill="#008000"/>
<rect x="1092" y="494" width="5" height="102" fill="#008000"/>
</g>
<polyline points="62.5,339.9 68.5,341.1 74.5,344.2 80.5,347.5 86.5,352.5 92.5,351.7 98.5,350.2 104.5,341.7 110.5,333.0 116.5,326.7 122.5,320.5 128.5,319.0 134.5,326.7 140.5,337.5 146.5,350.5 152.5,375.5 158.5,393.5 164.5,404.2 170.5,409.9 176.5,408.5 182.5,407.0 188.5,411.7 194.5,416.1 200.5,419.9 206.5,423.5 212.5,426.5 218.5,429.0 224.5,427.5 230.5,433.0 236.5,437.5 242.5,439.2 248.5,439.0 254.5,431.7 260.5,421.5 266.5,413.0 272.5,405.5 278.5,395.5 284.5,388.5 290.5,379.9 296.5,373.0 302.5,368.0 308.5,364.2 314.5,361.7 320.5,361.5 326.5,363.0 332.5,365.5 338.5,366.1 344.5,367.5 350.5,374.2 356.5,375.5 362.5,371.1 368.5,368.5 374.5,366.1 380.5,353.0 386.5,341.7 392.5,333.5 398.5,326.7 404.5,324.9 410.5,324.9 416.5,326.7 422.5,327.7 428.5,332.5 434.5,332.7 440.5,332.0 446.5,333.5 452.5,335.2 458.5,336.1 464.5,339.2 470.5,342.0 476.5,342.0 482.5,341.7 488.5,339.5 494.5,341.1 500.5,343.5 506.5,347.5 512.5,352.5 518.5,353.5 524.5,356.1 530.5,361.1 536.5,364.9 542.5,369.9 548.5,375.5 554.5,380.5 560.5,385.5 566.5,389.2 572.5,399.9 578.5,405.5 584.5,408.5 590.5,409.5 596.5,406.7 602.5,398.0 608.5,393.0 614.5,389.2 620.5,383.0 626.5,379.9 632.5,378.5 638.5,377.5 644.5,373.0 650.5,366.7 656.5,358.3 662.5,349.8 668.5,341.4 674.5,333.0 680.5,334.2 686.5,335.9 692.5,337.5 698.5,339.9 704.5,341.7 710.5,346.1 716.5,348.5 722.5,351.7 728.5,351.7 734.5,351.1 740.5,350.7 746.5,355.5 752.5,355.5 758.5,354.2 764.5,353.0 770.5,352.5 776.5,357.5 782.5,363.0 788.5,366.5 794.5,365.2 800.5,362.5 806.5,355.5 812.5,347.5 818.5,341.1 824.5,337.7 830.5,334.9 836.5,334.0 842.5,336.1 848.5,339.0 854.5,339.9 860.5,342.0 866.5,343.5 872.5,340.5 878.5,333.5 884.5,328.5 890.5,324.2 896.5,320.5 902.5,320.2 908.5,318.5 914.5,314.2 920.5,305.5 926.5,297.5 932.5,281.7 938.5,253.0 944.5,226.5 950.5,201.7 956.5,179.2 962.5,161.7 968.5,159.9 974.5,161.7 980.5,163.5 986.5,164.9 992.5,173.0 998.5,185.5 1004.5,188.0 1010.5,188.5 1016.5,194.9 1022.5,189.2 1028.5,181.1 1034.5,176.7 1040.5,170.0 1046.5,160.0 1052.5,149.5 1058.5,143.5 1064.5,139.5 1070.5,132.0 1076.5,124.2 1082.5,118.9 1088.5,106.5 1094.5,100.0" fill="none" stroke="#0a3264" stroke-width="1.0" stroke-linejoin="round"/>
<polyline points="62.5,357.1 68.5,352.5 74.5,348.5 80.5,346.5 86.5,344.9 92.5,344.5 98.5,345.1 104.5,343.0 110.5,341.1 116.5,339.5 122.5,336.1 128.5,334.9 134.5,334.9 140.5,336.1 146.5,339.2 152.5,346.7 158.5,356.7 164.5,366.7 170.5,373.5 176.5,379.9 182.5,389.9 188.5,400.5 194.5,408.5 200.5,413.5 206.5,415.5 212.5,416.7 218.5,419.2 224.5,421.1 230.5,425.5 236.5,430.2 242.5,432.5 248.5,433.5 254.5,430.5 260.5,428.0 266.5,426.1 272.5,423.0 278.5,418.0 284.5,411.7 290.5,402.5 296.5,393.0 302.5,386.7 308.5,379.9 314.5,374.2 320.5,371.1 326.5,368.5 332.5,367.5 338.5,366.7 344.5,364.9 350.5,367.7 356.5,368.5 362.5,368.0 368.5,367.7 374.5,366.7 380.5,364.5 386.5,360.5 392.5,354.2 398.5,348.0 404.5,345.5 410.5,339.2 416.5,333.5 422.5,331.7 428.5,330.5 434.5,329.0 440.5,328.5 446.5,329.5 452.5,331.1 458.5,334.9 464.5,336.1 470.5,337.5 476.5,338.0 482.5,338.0 488.5,338.0 494.5,340.2 500.5,342.5 506.5,344.9 512.5,347.0 518.5,346.8 524.5,348.0 530.5,351.7 536.5,356.7 542.5,360.5 548.5,364.0 554.5,366.7 560.5,372.5 566.5,378.5 572.5,384.2 578.5,390.5 584.5,394.2 590.5,396.7 596.5,397.7 602.5,398.5 608.5,398.9 614.5,398.5 620.5,396.1 626.5,393.5 632.5,388.5 638.5,384.2 644.5,381.5 650.5,375.5 656.5,369.0 662.5,363.0 668.5,357.5 674.5,352.5 680.5,350.2 686.5,346.7 692.5,343.0 698.5,339.9 704.5,336.7 710.5,338.5 716.5,341.5 722.5,343.5 728.5,346.1 734.5,348.5 740.5,351.1 746.5,351.7 752.5,353.0 758.5,354.2 764.5,354.2 770.5,354.9 776.5,356.1 782.5,358.5 788.5,360.2 794.5,359.2 800.5,358.0 806.5,356.5 812.5,354.9 818.5,353.5 824.5,351.1 830.5,348.2 836.5,345.5 842.5,342.5 848.5,339.5 854.5,338.5 860.5,338.5 866.5,338.5 872.5,338.0 878.5,335.7 884.5,334.2 890.5,333.0 896.5,331.5 902.5,329.9 908.5,327.5 914.5,320.5 920.5,314.2 926.5,308.5 932.5,300.5 938.5,286.1 944.5,270.5 950.5,255.5 956.5,240.5 962.5,220.5 968.5,206.7 974.5,195.5 980.5,184.2 986.5,173.5 992.5,168.5 998.5,173.0 1004.5,175.2 1010.5,177.5 1016.5,180.5 1022.5,183.0 1028.5,183.5 1034.5,182.5 1040.5,181.1 1046.5,178.0 1052.5,169.7 1058.5,162.7 1064.5,159.2 1070.5,152.2 1076.5,143.5 1082.5,134.7 1088.5,125.9 1094.5,120.7" fill="none" stroke="#ff8000" stroke-width="1.0" stroke-linejoin="round"/>
<polyline points="62.5,359.9 68.5,359.7 74.5,359.0 80.5,359.2 86.5,360.2 92.5,360.7 98.5,359.9 104.5,357.5 110.5,353.5 116.5,350.5 122.5,346.7 128.5,343.2 134.5,341.7 140.5,340.9 146.5,341.7 152.5,344.9 158.5,348.0 164.5,351.7 170.5,355.5 176.5,359.2 182.5,363.5 188.5,368.0 194.5,371.5 200.5,374.2 206.5,378.0 212.5,382.5 218.5,388.0 224.5,394.2 230.5,400.5 236.5,406.1 242.5,412.5 248.5,417.7 254.5,420.2 260.5,420.8 266.5,420.5 272.5,419.5 278.5,417.7 284.5,416.1 290.5,414.2 296.5,412.5 302.5,409.2 308.5,406.1 314.5,403.0 320.5,399.9 326.5,397.5 332.5,394.9 338.5,391.1 344.5,387.7 350.5,384.9 356.5,381.1 362.5,377.5 368.5,373.5 374.5,370.2 380.5,368.0 386.5,363.5 392.5,359.9 398.5,356.7 404.5,354.5 410.5,353.0 416.5,351.1 422.5,349.5 428.5,348.5 434.5,347.5 440.5,346.5 446.5,344.9 452.5,341.7 458.5,341.5 464.5,340.5 470.5,337.7 476.5,335.7 482.5,334.5 488.5,333.5 494.5,333.5 500.5,335.2 506.5,336.7 512.5,338.5 518.5,340.5 524.5,342.0 530.5,344.2 536.5,346.7 542.5,349.2 548.5,351.1 554.5,353.5 560.5,356.7 566.5,360.5 572.5,364.2 578.5,367.5 584.5,370.5 590.5,373.5 596.5,377.0 602.5,379.9 608.5,381.7 614.5,383.0 620.5,384.0 626.5,385.2 632.5,386.7 638.5,388.0 644.5,387.7 650.5,386.1 656.5,383.2 662.5,381.1 668.5,379.0 674.5,376.1 680.5,373.0 686.5,369.9 692.5,365.7 698.5,362.5 704.5,359.2 710.5,356.7 716.5,354.9 722.5,353.5 728.5,352.5 734.5,351.1 740.5,350.5 746.5,349.0 752.5,347.7 758.5,346.5 764.5,345.7 770.5,346.7 776.5,348.5 782.5,351.1 788.5,353.5 794.5,354.9 800.5,354.9 806.5,354.9 812.5,354.9 818.5,354.0 824.5,353.2 830.5,352.0 836.5,350.7 842.5,350.5 848.5,350.5 854.5,349.9 860.5,349.2 866.5,348.2 872.5,347.5 878.5,345.2 884.5,343.5 890.5,341.5 896.5,338.5 902.5,336.1 908.5,333.5 914.5,329.9 920.5,326.7 926.5,323.0 932.5,319.9 938.5,309.9 944.5,301.7 950.5,293.0 956.5,283.5 962.5,273.5 968.5,264.9 974.5,256.7 980.5,248.5 986.5,241.7 992.5,236.5 998.5,229.5 1004.5,222.5 1010.5,216.1 1016.5,209.9 1022.5,203.5 1028.5,196.7 1034.5,189.2 1040.5,182.7 1046.5,176.1 1052.5,169.7 1058.5,167.9 1064.5,166.2 1070.5,163.5 1076.5,160.9 1082.5,158.0 1088.5,154.5 1094.5,150.8" fill="none" stroke="#45107f" stroke-width="1.0" stroke-linejoin="round"/>
<polyline points="74.5,348.0 80.5,348.0 86.5,348.5 92.5,349.2 98.5,349.9 104.5,349.9 110.5,349.5 116.5,348.5 122.5,348.0 128.5,348.0 134.5,348.0 140.5,348.0 146.5,349.9 152.5,351.7 158.5,353.5 164.5,356.1 170.5,358.5 176.5,360.5 182.5,362.5 188.5,364.2 194.5,366.1 212.5,371.5 218.5,373.2 224.5,374.9 230.5,376.5 236.5,377.7 242.5,379.0 248.5,379.9 254.5,380.7 260.5,381.3 266.5,382.1 272.5,383.0 278.5,384.0 284.5,384.9 290.5,386.1 296.5,386.7 302.5,386.7 308.5,387.0 314.5,387.7 320.5,387.5 326.5,388.0 332.5,388.5 338.5,389.0 344.5,390.5 350.5,393.0 356.5,394.2 362.5,394.9 368.5,395.5 374.5,395.5 380.5,394.9 386.5,392.5 392.5,389.9 398.5,387.5 404.5,385.2 410.5,383.2 416.5,381.1 422.5,378.9 428.5,376.7 434.5,374.5 440.5,372.5 446.5,370.2 452.5,368.0 458.5,365.7 464.5,364.2 470.5,361.1 476.5,358.5 482.5,356.1 488.5,353.5 494.5,352.5 500.5,351.1 506.5,350.5 512.5,349.5 518.5,349.2 524.5,349.0 530.5,349.0 536.5,349.2 542.5,349.5 548.5,350.2 554.5,351.1 560.5,352.0 566.5,353.0 572.5,354.0 578.5,354.9 584.5,355.5 590.5,356.1 596.5,356.7 602.5,357.5 608.5,358.5 614.5,359.5 620.5,360.5 626.5,361.7 632.5,363.0 638.5,364.0 644.5,364.5 650.5,364.9 656.5,364.9 662.5,364.9 668.5,364.9 674.5,364.9 680.5,364.9 686.5,364.9 692.5,365.5 698.5,365.2 704.5,364.9 710.5,365.7 716.5,366.1 722.5,366.7 728.5,366.7 734.5,366.7 740.5,366.7 746.5,366.7 752.5,366.7 758.5,366.7 764.5,366.7 770.5,366.5 776.5,366.1 782.5,365.9 788.5,365.5 794.5,365.2 800.5,363.5 806.5,361.7 812.5,359.9 818.5,358.0 824.5,356.1 830.5,354.5 836.5,353.0 842.5,352.5 848.5,351.1 854.5,350.2 860.5,349.2 866.5,348.2 872.5,347.7 878.5,346.1 884.5,344.9 890.5,344.2 896.5,344.0 902.5,343.5 908.5,343.0 914.5,342.2 920.5,341.1 926.5,339.9 932.5,337.5 938.5,333.0 944.5,328.0 950.5,323.5 956.5,319.2 962.5,314.2 968.5,308.5 974.5,303.0 980.5,298.0 986.5,294.2 992.5,290.5 998.5,287.5 1004.5,283.5 1010.5,279.5 1016.5,275.5 1035.1,258.9 1052.5,244.9 1069.9,229.1 1082.5,217.8 1094.5,204.6" fill="none" stroke="#0000ff" stroke-width="1" stroke-linejoin="round"/>
<polyline points="194.5,355.7 206.5,360.3 218.5,364.3 230.5,367.5 242.5,370.2 248.5,371.1 254.5,372.0 260.5,372.9 266.5,373.5 272.5,374.2 278.5,374.9 284.5,375.7 290.5,377.0 296.5,377.7 302.5,378.0 308.5,378.0 314.5,378.0 320.5,378.0 326.5,378.5 332.5,379.0 338.5,379.5 344.5,379.0 350.5,379.0 356.5,379.0 362.5,378.5 368.5,378.0 374.5,377.5 380.5,376.1 386.5,375.5 392.5,374.9 398.5,374.7 404.5,374.5 410.5,374.5 416.5,374.5 422.5,374.5 428.5,374.2 434.5,373.5 440.5,373.0 446.5,372.8 452.5,372.7 458.5,373.0 464.5,374.0 470.5,374.5 476.5,374.5 482.5,374.5 488.5,374.5 494.5,374.5 500.5,374.4 506.5,373.5 512.5,372.5 518.5,372.5 524.5,371.5 530.5,370.7 536.5,370.2 542.5,369.5 548.5,368.5 554.5,368.0 560.5,367.7 566.5,367.5 572.5,367.4 578.5,367.0 584.5,366.7 590.5,366.1 596.5,365.2 602.5,364.2 608.5,363.2 614.5,363.0 620.5,362.7 626.5,362.5 632.5,362.0 638.5,361.7 644.5,361.7 650.5,361.1 656.5,360.2 662.5,359.5 668.5,359.2 674.5,359.0 680.5,358.5 686.5,358.2 692.5,358.0 698.5,357.5 704.5,357.0 710.5,356.7 716.5,356.1 722.5,355.5 728.5,355.5 734.5,355.5 740.5,356.5 746.5,356.7 752.5,357.5 758.5,357.7 764.5,358.2 770.5,359.2 776.5,359.9 782.5,360.2 788.5,360.7 794.5,361.1 800.5,361.5 806.5,361.5 812.5,361.5 818.5,361.1 824.5,360.7 830.5,360.7 836.5,360.7 842.5,361.1 848.5,361.7 854.5,361.1 860.5,360.9 866.5,360.7 872.5,360.5 878.5,359.5 884.5,358.5 890.5,357.5 896.5,356.1 902.5,354.9 908.5,353.5 914.5,352.0 920.5,350.5 926.5,348.5 932.5,345.5 938.5,342.0 944.5,338.5 950.5,334.9 956.5,331.1 962.5,326.7 968.5,322.5 974.5,318.5 980.5,315.5 986.5,311.7 992.5,308.5 998.5,305.5 1004.5,303.8 1010.5,302.1 1016.5,300.4 1035.1,290.9 1052.5,281.7 1064.5,274.7 1076.5,265.0 1094.5,252.5" fill="none" stroke="#ff80ff" stroke-width="1.0" stroke-linejoin="round"/>
<polyline points="62.5,543.9 68.5,543.9 74.5,543.9 80.5,543.9 86.5,543.0 92.5,544.2 98.5,550.7 104.5,551.1 110.5,552.7 116.5,554.0 122.5,554.9 128.5,553.5 134.5,551.7 140.5,551.1 146.5,545.5 152.5,540.7 158.5,537.5 164.5,538.5 170.5,534.9 176.5,539.0 182.5,543.0 188.5,543.0 194.5,543.0 200.5,539.9 206.5,543.5 212.5,545.2 218.5,547.0 224.5,547.0 230.5,554.0 236.5,549.0 242.5,547.7 248.5,546.1 254.5,545.7 260.5,545.7 266.5,549.5 272.5,550.5 278.5,551.5 284.5,551.7 290.5,555.5 296.5,555.7 302.5,555.7 308.5,558.0 314.5,560.5 320.5,563.0 326.5,566.5 332.5,571.7 338.5,578.0 344.5,583.5 350.5,587.5 356.5,590.2 362.5,592.5 368.5,590.7 374.5,591.7 380.5,592.7 386.5,593.5 392.5,594.2 398.5,596.0 404.5,596.5 842.5,596.5 860.5,595.9 866.5,595.5 872.5,595.3 878.5,594.9 884.5,594.5 890.5,594.0 896.5,593.0 902.5,592.0 908.5,591.1 914.5,590.5 920.5,589.9 926.5,589.9 932.5,589.5 938.5,587.5 944.5,586.7 950.5,585.7 956.5,584.9 962.5,584.0 968.5,583.0 974.5,581.5 980.5,580.2 986.5,577.9 992.5,574.5 998.5,569.6 1004.5,566.9 1010.5,562.1 1016.5,553.8 1022.5,547.9 1028.5,544.9 1034.5,541.5 1040.5,536.9 1046.5,536.6 1052.5,532.5 1058.5,528.8 1064.5,527.7 1070.5,525.6 1076.5,527.0 1082.5,528.0 1088.5,527.7 1094.5,521.1" fill="none" stroke="#0a3264" stroke-width="1.0" stroke-linejoin="round"/>
<polyline points="62.5,541.1 68.5,538.9 74.5,540.5 80.5,541.5 86.5,543.0 92.5,543.5 98.5,547.7 104.5,548.0 110.5,548.0 116.5,548.0 122.5,549.2 128.5,552.7 134.5,551.7 140.5,551.5 146.5,549.9 152.5,547.7 158.5,545.7 164.5,545.7 170.5,543.5 176.5,543.0 182.5,541.5 188.5,539.9 194.5,540.5 200.5,538.0 206.5,540.7 212.5,543.5 218.5,544.5 224.5,544.9 230.5,546.7 236.5,545.7 242.5,546.1 248.5,546.7 254.5,546.5 260.5,549.9 266.5,548.5 272.5,548.5 278.5,549.0 284.5,548.5 290.5,551.1 296.5,552.7 302.5,553.5 308.5,554.9 314.5,557.5 320.5,559.9 326.5,561.7 332.5,564.2 338.5,568.0 344.5,571.7 350.5,574.9 356.5,578.5 362.5,582.5 368.5,584.9 374.5,587.5 380.5,589.2 386.5,591.5 392.5,593.2 398.5,594.2 404.5,594.5 410.5,595.2 416.5,595.7 422.5,596.1 428.5,596.5 842.5,596.5 872.5,595.7 884.5,595.2 890.5,594.9 896.5,594.5 902.5,593.5 908.5,593.0 914.5,592.5 920.5,591.7 926.5,591.5 932.5,591.1 938.5,589.9 944.5,588.5 950.5,588.0 956.5,587.7 962.5,587.0 968.5,585.7 974.5,583.5 980.5,582.5 986.5,581.7 992.5,579.3 998.5,576.8 1004.5,574.5 1010.5,571.0 1016.5,565.5 1022.5,561.4 1028.5,557.0 1034.5,553.8 1040.5,550.1 1046.5,544.9 1052.5,540.1 1058.5,536.6 1064.5,533.9 1070.5,530.9 1076.5,531.8 1082.5,530.5 1088.5,528.4 1094.5,523.8" fill="none" stroke="#ff8000" stroke-width="1.0" stroke-linejoin="round"/>
<polyline points="62.5,670.0 68.5,656.7 74.5,693.5 80.5,728.0 86.5,751.7 92.5,699.2 98.5,659.2 104.5,628.7 110.5,640.5 116.5,668.8 122.5,647.2 128.5,674.3 134.5,765.0 140.5,765.4 146.5,768.6 152.5,780.0 158.5,752.5 164.5,768.7 170.5,749.9 176.5,735.8 182.5,752.2 188.5,744.8 194.5,761.5 200.5,716.6 206.5,683.2 212.5,698.5 218.5,720.4 224.5,707.3 230.5,764.2 236.5,737.8 242.5,659.6 248.5,685.5 254.5,620.3 260.5,647.7 266.5,658.5 272.5,639.1 278.5,617.5 284.5,621.5 290.5,619.2 296.5,640.4 302.5,634.9 308.5,630.3 314.5,624.0 320.5,644.5 326.5,688.4 332.5,712.0 338.5,658.0 344.5,686.9 350.5,744.2 356.5,694.1 362.5,629.3 368.5,634.0 374.5,636.4 380.5,623.9 386.5,617.5 392.5,624.8 398.5,619.3 404.5,656.7 410.5,654.0 416.5,653.5 422.5,660.5 428.5,723.0 434.5,737.7 440.5,692.7 446.5,727.4 452.5,710.1 458.5,779.5 464.5,763.7 470.5,720.6 476.5,672.7 482.5,642.8 488.5,668.1 494.5,755.0 500.5,732.6 506.5,724.1 512.5,745.4 518.5,702.8 524.5,766.7 530.5,770.5 536.5,765.3 542.5,748.9 548.5,753.1 554.5,768.9 560.5,767.0 566.5,772.0 572.5,773.9 578.5,736.7 584.5,711.8 590.5,719.5 596.5,656.5 602.5,635.5 608.5,632.5 614.5,659.5 620.5,617.5 626.5,652.4 632.5,639.5 638.5,652.2 644.5,629.1 650.5,619.5 656.5,635.3 662.5,644.1 668.5,639.7 674.5,643.3 680.5,680.8 686.5,666.9 692.5,672.4 698.5,675.5 704.5,688.0 710.5,772.5 716.5,740.9 722.5,730.5 728.5,714.2 734.5,755.0 740.5,750.4 746.5,704.7 752.5,681.4 758.5,668.5 764.5,701.3 770.5,706.9 776.5,751.7 782.5,770.5 788.5,748.0 794.5,658.0 800.5,631.0 806.5,636.8 812.5,621.4 818.5,635.2 824.5,641.1 830.5,644.0 836.5,652.8 842.5,686.5 848.5,692.0 854.5,685.4 860.5,727.2 866.5,711.6 872.5,664.5 878.5,617.5 884.5,640.6 890.5,663.8 896.5,644.5 902.5,652.2 908.5,621.3 914.5,623.0 920.5,619.6 926.5,651.3 932.5,617.5 938.5,645.6 944.5,653.6 950.5,649.7 956.5,648.1 962.5,633.6 968.5,639.6 974.5,665.8 980.5,671.1 986.5,664.3 992.5,777.3 998.5,772.7 1004.5,717.9 1010.5,720.2 1016.5,752.1 1022.5,699.6 1028.5,652.9 1034.5,642.6 1040.5,649.9 1046.5,634.4 1052.5,619.2 1058.5,652.9 1064.5,668.1 1070.5,620.8 1076.5,629.6 1082.5,621.5 1088.5,644.1 1094.5,703.6" fill="none" stroke="#0a3264" stroke-width="1.0" stroke-linejoin="round"/>
<polyline points="62.5,723.5 68.5,695.5 74.5,729.2 80.5,759.2 86.5,745.0 92.5,668.1 98.5,631.4 104.5,630.0 110.5,643.1 116.5,671.5 122.5,656.2 128.5,698.5 134.5,774.2 140.5,765.4 146.5,768.0 152.5,780.0 158.5,749.2 164.5,764.8 170.5,728.0 176.5,703.4 182.5,700.7 188.5,715.8 194.5,752.9 200.5,691.9 206.5,683.2 212.5,693.9 218.5,692.0 224.5,672.6 230.5,756.8 236.5,735.3 242.5,665.4 248.5,673.0 254.5,620.7 260.5,647.7 266.5,660.2 272.5,645.0 278.5,617.5 284.5,623.3 290.5,620.9 296.5,657.2 302.5,651.4 308.5,639.6 314.5,624.9 320.5,666.1 326.5,730.9 332.5,747.1 338.5,673.0 344.5,686.9 350.5,744.2 356.5,681.6 362.5,620.6 368.5,634.0 374.5,636.4 380.5,623.9 386.5,617.5 392.5,630.0 398.5,620.8 404.5,700.4 410.5,711.6 416.5,705.9 422.5,713.2 428.5,779.5 434.5,749.5 440.5,689.5 446.5,725.5 452.5,707.5 458.5,779.5 464.5,757.2 470.5,698.5 476.5,617.5 482.5,642.8 488.5,668.1 494.5,755.0 500.5,732.6 506.5,724.1 512.5,745.4 518.5,691.1 524.5,758.4 530.5,767.0 536.5,760.2 542.5,741.8 548.5,753.1 554.5,768.9 560.5,761.5 566.5,764.3 572.5,770.5 578.5,710.5 584.5,695.5 590.5,719.5 596.5,656.5 602.5,635.5 608.5,634.4 614.5,659.9 620.5,617.5 626.5,658.0 632.5,662.2 638.5,680.0 644.5,639.8 650.5,620.7 656.5,637.8 662.5,650.4 668.5,645.0 674.5,648.8 680.5,709.5 686.5,718.1 692.5,723.4 698.5,728.5 704.5,714.7 710.5,768.0 716.5,730.4 722.5,716.5 728.5,706.5 734.5,754.2 740.5,739.0 746.5,675.4 752.5,644.2 758.5,633.7 764.5,701.3 770.5,706.9 776.5,751.7 782.5,770.5 788.5,748.0 794.5,633.7 800.5,617.5 806.5,636.8 812.5,621.4 818.5,635.5 824.5,643.4 830.5,666.1 836.5,710.1 842.5,766.5 848.5,737.7 854.5,667.3 860.5,712.0 866.5,691.8 872.5,664.5 878.5,617.5 884.5,641.8 890.5,666.1 896.5,645.9 902.5,654.0 908.5,624.5 914.5,626.8 920.5,620.6 926.5,664.1 932.5,617.5 938.5,645.7 944.5,657.3 950.5,655.4 956.5,657.5 962.5,639.2 968.5,681.8 974.5,740.6 980.5,740.6 986.5,716.7 992.5,776.9 998.5,772.7 1004.5,711.2 1010.5,683.8 1016.5,735.3 1022.5,650.6 1028.5,637.4 1034.5,644.5 1040.5,652.2 1046.5,635.5 1052.5,619.8 1058.5,672.4 1064.5,695.9 1070.5,622.6 1076.5,636.2 1082.5,622.9 1088.5,649.0 1094.5,719.5" fill="none" stroke="#ff8000" stroke-width="1.0" stroke-linejoin="round"/>
<g stroke="#606060" stroke-width="1" fill="none" shape-rendering="crispEdges"><path d="M189 461.5H199M197 459.5l2 2l-2 2"/><path d="M1077 44.5H1087M1085 42.5l2 2l-2 2"/></g>
<g font-family="'Liberation Serif','Noto Serif CJK SC',serif" font-size="19" fill="#8a0000">
<text x="309" y="112.5">十债2006合约最近加速上行后受阻于</text>
<text x="309.5" y="132.2">102关口，周二大幅低开走低，成交明显放大，</text>
<text x="309" y="152">说明当前价格可能出现反转。</text>
<text x="309" y="171.7">威廉指标快速下行至空头区域，短期空头强势</text>
<text x="309" y="191.5">崛起，预计短期仍继续回落。</text>
</g>
<g font-family="'Liberation Sans','Noto Sans CJK SC',sans-serif" font-size="12">
<text x="0" y="13" fill="#404040">十年国债</text>
<text x="128" y="13" fill="#404040">日线</text>
<text x="1011" y="12.5" fill="#00507d">商品叠加</text>
<text x="1079" y="12.5" fill="#00507d">周期</text>
<text x="32" y="795.5" fill="#505050">日线</text>
<text x="40.5" y="549.5" fill="#505050">万</text>
</g>
<g shape-rendering="crispEdges"><rect x="1011" y="14" width="48" height="1" fill="#00507d"/><rect x="1079" y="14" width="24" height="1" fill="#00507d"/></g>
</svg>
<span class="t" style="left:48.5px;top:2.5px;color:#404040;font-size:11.3px;font-family:'Liberation Sans',sans-serif;letter-spacing:-0.25px">2006 (040506)</span><span class="t" style="left:120.5px;top:1.5px;color:#404040;font-size:12px;font-family:'Liberation Sans',sans-serif;">&lt;</span><span class="t" style="left:151px;top:1.5px;color:#404040;font-size:12px;font-family:'Liberation Sans',sans-serif;">&gt;</span><span class="t" style="left:60.5px;top:21.5px;color:#686868;font-size:12.3px;font-family:'Liberation Sans',sans-serif;letter-spacing:0.0px">K</span><span class="t" style="left:75.9px;top:21.5px;color:#0a3264;font-size:12.3px;font-family:'Liberation Sans',sans-serif;letter-spacing:0.14px">MA5:101.405</span><span class="t" style="left:153.6px;top:21.5px;color:#ff8000;font-size:12.3px;font-family:'Liberation Sans',sans-serif;letter-spacing:0.127px">MA10:101.092</span><span class="t" style="left:238.3px;top:21.5px;color:#2a0a6a;font-size:12.3px;font-family:'Liberation Sans',sans-serif;letter-spacing:0.109px">MA20:100.615</span><span class="t" style="left:323.9px;top:21.5px;color:#0000ff;font-size:12.3px;font-family:'Liberation Sans',sans-serif;letter-spacing:0.05px">MA40:99.789</span><span class="t" style="left:401.6px;top:21.5px;color:#ff80ff;font-size:12.3px;font-family:'Liberation Sans',sans-serif;letter-spacing:0.07px">MA60:99.044</span><span class="t" style="left:60.7px;top:481px;color:#686868;font-size:12.3px;font-family:'Liberation Sans',sans-serif;letter-spacing:0.188px">VOL(5,10)</span><span class="t" style="left:123.7px;top:481px;color:#686868;font-size:12.3px;font-family:'Liberation Sans',sans-serif;letter-spacing:-0.169px">VOLUME:78091.0000</span><span class="t" style="left:244.7px;top:481px;color:#0a3264;font-size:12.3px;font-family:'Liberation Sans',sans-serif;letter-spacing:0.081px">MAVOL1:58900.4000</span><span class="t" style="left:366.7px;top:481px;color:#ff8000;font-size:12.3px;font-family:'Liberation Sans',sans-serif;letter-spacing:0.081px">MAVOL2:56104.7000</span><span class="t" style="left:60.8px;top:602.4px;color:#686868;font-size:12.3px;font-family:'Liberation Sans',sans-serif;letter-spacing:0.18px">WR(10,6,-80,-20)</span><span class="t" style="left:163.9px;top:602.4px;color:#0a3264;font-size:12.3px;font-family:'Liberation Sans',sans-serif;letter-spacing:0.036px">WR1:-52.2843</span><span class="t" style="left:247.8px;top:602.4px;color:#ff8000;font-size:12.3px;font-family:'Liberation Sans',sans-serif;letter-spacing:0.064px">WR2:-61.8619</span><span class="t" style="left:33.75px;top:55.5px;color:#555555;font-size:12px;font-family:'Liberation Sans',sans-serif;letter-spacing:0.325px">102</span><span class="t" style="left:33.75px;top:120.5px;color:#555555;font-size:12px;font-family:'Liberation Sans',sans-serif;letter-spacing:0.325px">101</span><span class="t" style="left:33.75px;top:184.5px;color:#555555;font-size:12px;font-family:'Liberation Sans',sans-serif;letter-spacing:0.325px">100</span><span class="t" style="left:41.3px;top:249.5px;color:#555555;font-size:12px;font-family:'Liberation Sans',sans-serif;letter-spacing:0.0px">99</span><span class="t" style="left:41.3px;top:314.5px;color:#555555;font-size:12px;font-family:'Liberation Sans',sans-serif;letter-spacing:0.0px">98</span><span class="t" style="left:41.3px;top:379.5px;color:#555555;font-size:12px;font-family:'Liberation Sans',sans-serif;letter-spacing:0.0px">97</span><span class="t" style="left:41.3px;top:443.5px;color:#555555;font-size:12px;font-family:'Liberation Sans',sans-serif;letter-spacing:0.0px">96</span><span class="t" style="left:34.0px;top:537.5px;color:#555555;font-size:12px;font-family:'Liberation Sans',sans-serif;letter-spacing:0.0px">4</span><span class="t" style="left:34.0px;top:643.5px;color:#555555;font-size:12px;font-family:'Liberation Sans',sans-serif;letter-spacing:1.5px">-20</span><span class="t" style="left:143.6px;top:454.5px;color:#0a3264;font-size:13.2px;font-family:'Liberation Mono',sans-serif;letter-spacing:-0.92px">95.820</span><span class="t" style="left:1025.0px;top:38.3px;color:#0a3264;font-size:13.2px;font-family:'Liberation Mono',sans-serif;letter-spacing:-1.0px">102.255</span><span class="t" style="left:60.6px;top:785px;color:#555555;font-size:10.8px;font-family:'Liberation Sans',sans-serif;letter-spacing:-0.12px">201903</span><span class="t" style="left:128.0px;top:785px;color:#555555;font-size:10.8px;font-family:'Liberation Sans',sans-serif;letter-spacing:0.0px">04</span><span class="t" style="left:253.7px;top:785px;color:#555555;font-size:10.8px;font-family:'Liberation Sans',sans-serif;letter-spacing:0.0px">05</span><span class="t" style="left:373.9px;top:785px;color:#555555;font-size:10.8px;font-family:'Liberation Sans',sans-serif;letter-spacing:0.0px">06</span><span class="t" style="left:469.5px;top:785px;color:#555555;font-size:10.8px;font-family:'Liberation Sans',sans-serif;letter-spacing:0.0px">10</span><span class="t" style="left:577.6px;top:785px;color:#555555;font-size:10.8px;font-family:'Liberation Sans',sans-serif;letter-spacing:0.0px">11</span><span class="t" style="left:703.8px;top:785px;color:#555555;font-size:10.8px;font-family:'Liberation Sans',sans-serif;letter-spacing:0.0px">12</span><span class="t" style="left:823.8px;top:785px;color:#555555;font-size:10.8px;font-family:'Liberation Sans',sans-serif;letter-spacing:-0.2px">202001</span><span class="t" style="left:931.7px;top:785px;color:#555555;font-size:10.8px;font-family:'Liberation Sans',sans-serif;letter-spacing:0.0px">02</span><span class="t" style="left:1051.9px;top:785px;color:#555555;font-size:10.8px;font-family:'Liberation Sans',sans-serif;letter-spacing:0.0px">03</span>
<div class="sr">十年国债2006 (040506)&lt;日线&gt; 商品叠加 周期 十债2006合约最近加速上行后受阻于 102关口，周二大幅低开走低，成交明显放大， 说明当前价格可能出现反转。 威廉指标快速下行至空头区域，短期空头强势 崛起，预计短期仍继续回落。 日线 4万</div>
</body></html>
